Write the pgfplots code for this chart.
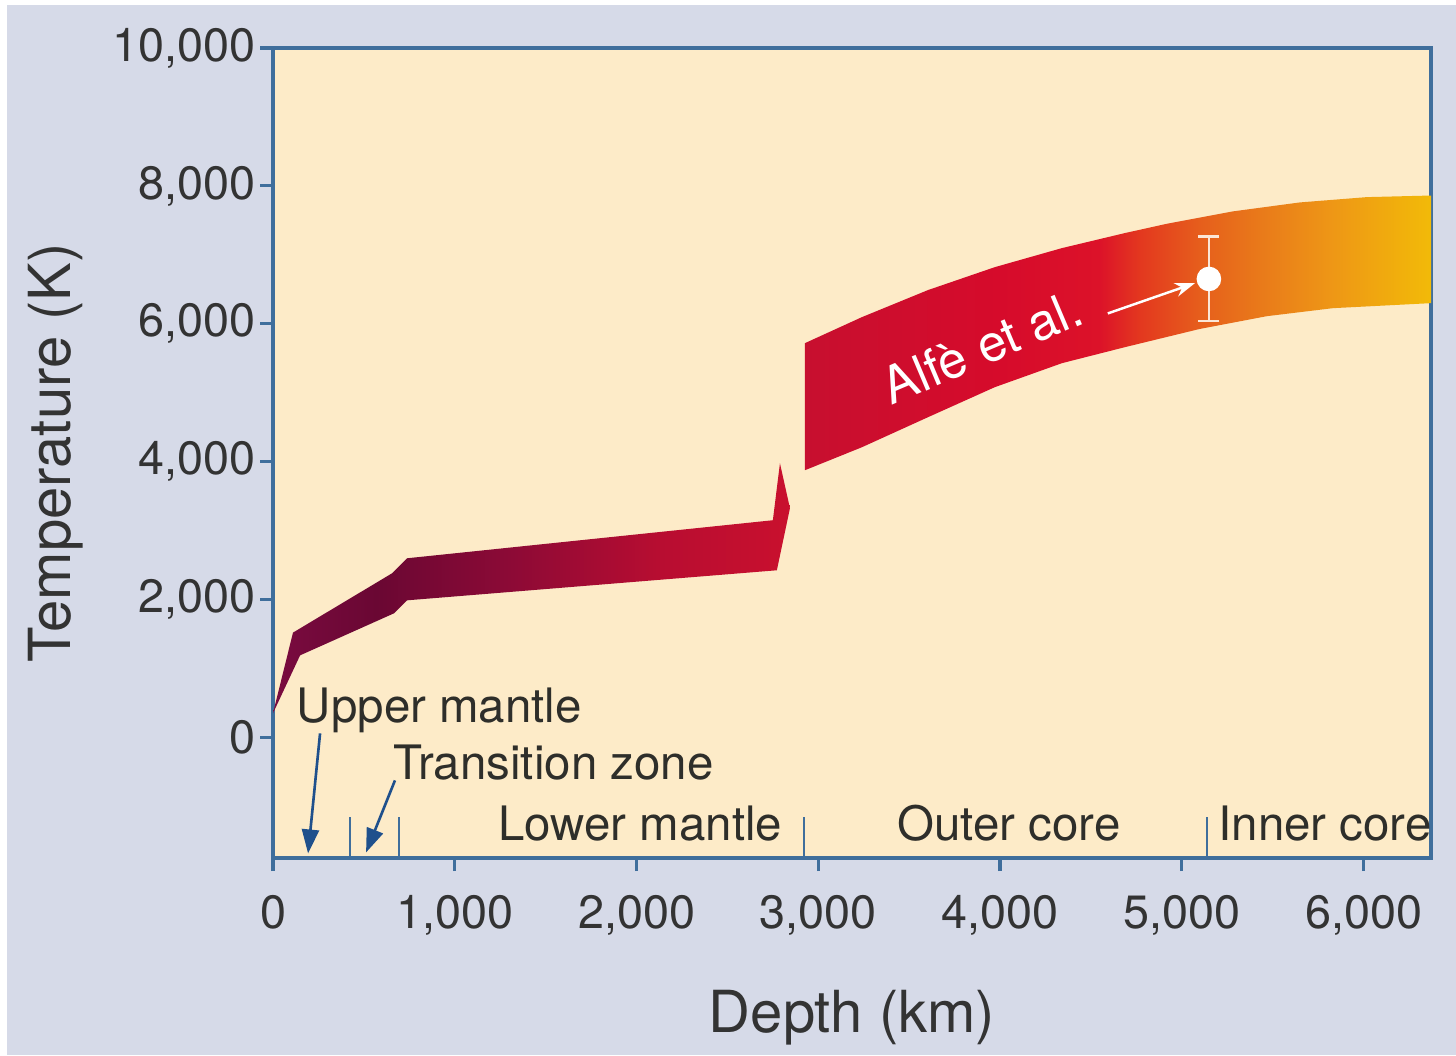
\documentclass[border=0pt]{standalone}
\usepackage{fontspec}
\setmainfont{TeX Gyre Heros}
\usepackage{pgfplots}
\pgfplotsset{compat=1.18}
\usetikzlibrary{arrows.meta}

\definecolor{bglav}{HTML}{D6DAE8}
\definecolor{cream}{HTML}{FDEBC8}
\definecolor{axblue}{HTML}{3F6E9C}
\definecolor{arrowblue}{HTML}{1F508C}
\definecolor{txtgray}{HTML}{333333}
\definecolor{lbltext}{HTML}{2E2E2A}
\definecolor{errcol}{HTML}{FBE6D6}

% mantle band colours (left to right)
\definecolor{m0}{HTML}{7A0B40}
\definecolor{m1}{HTML}{6A0733}
\definecolor{m2}{HTML}{8B0A36}
\definecolor{m3}{HTML}{B80D31}
\definecolor{m4}{HTML}{C9102E}
% core band colours (left to right)
\definecolor{c0}{HTML}{C70F2F}
\definecolor{c1}{HTML}{D60B2B}
\definecolor{c2}{HTML}{DC1229}
\definecolor{c3}{HTML}{E3381F}
\definecolor{c4}{HTML}{E65E1C}
\definecolor{c5}{HTML}{E97A1A}
\definecolor{c6}{HTML}{EE9616}
\definecolor{c7}{HTML}{F2BA08}

% the central 25bp..75bp span is stretched over the band's extent
\pgfdeclarehorizontalshading{mantleshade}{100bp}{%
  color(0bp)=(m0); color(25bp)=(m0); color(35bp)=(m1); color(47.5bp)=(m2);
  color(62.5bp)=(m3); color(75bp)=(m4); color(100bp)=(m4)}
\pgfdeclarehorizontalshading{coreshade}{100bp}{%
  color(0bp)=(c0); color(25bp)=(c0); color(40.5bp)=(c1); color(48.5bp)=(c2);
  color(51.75bp)=(c3); color(56.5bp)=(c4); color(61.4bp)=(c5);
  color(66.9bp)=(c6); color(75bp)=(c7); color(100bp)=(c7)}

\begin{document}
\begin{tikzpicture}
\path[use as bounding box] (0,0) rectangle (14.56cm,10.55cm);
\fill[white] (0,0) rectangle (14.56cm,10.55cm);
\fill[bglav] (0.07cm,0) rectangle (14.56cm,10.50cm);
\begin{axis}[
  at={(2.73cm,1.97cm)}, anchor=south west,
  scale only axis, width=11.58cm, height=8.10cm,
  xmin=0, xmax=6371, ymin=-1750, ymax=10000,
  scaled ticks=false,
  axis background/.style={fill=cream},
  axis line style={axblue, line width=0.9pt},
  tick style={axblue, line width=0.9pt},
  tick align=outside, major tick length=0.13cm,
  xtick pos=bottom, ytick pos=left,
  xtick={0,1000,...,6000}, ytick={0,2000,...,10000},
  /pgf/number format/.cd, 1000 sep={,}, assume math mode=true, /pgfplots/.cd,
  ticklabel style={font=\fontsize{13.3}{16}\selectfont, text=txtgray},
  xticklabel style={yshift=-0.12cm},
  yticklabel style={xshift=0.08cm},
  xlabel={Depth (km)}, ylabel={Temperature (K)},
  label style={font=\fontsize{16.5}{20}\selectfont, text=txtgray},
  xlabel style={at={(axis description cs:0.5,-0.216)}, anchor=base},
  ylabel style={at={(axis description cs:-0.1753,0.5)}, anchor=base},
]
% mantle geotherm band
\addplot[draw=none, shade, shading=mantleshade] coordinates {
  (0,350) (110,1520) (655,2380) (737,2598) (2750,3150)
  (2789,3977) (2844,3324) (2772,2424)
  (737,1988) (666,1800) (149,1190) (0,350)};
% core geotherm band
\addplot[draw=none, shade, shading=coreshade] coordinates {
  (2926,5718) (3240,6096) (3603,6488) (3971,6821) (4340,7097)
  (4686,7315) (4917,7450) (5281,7630) (5649,7760) (6018,7837) (6371,7860)
  (6371,6299) (5831,6226) (5468,6110) (5099,5925) (4686,5660)
  (4340,5428) (3971,5080) (3603,4644) (3240,4209) (2926,3875)};

% ab initio estimate with its uncertainty
\addplot[only marks, mark=*, mark size=3.3pt, mark options={fill=white, draw=white},
  error bars/.cd, y dir=both, y explicit,
  error bar style={errcol, line width=0.8pt},
  error mark options={rotate=90, errcol, mark size=3pt, line width=0.8pt}]
  coordinates {(5149,6650) +- (0,610)};
\addplot[white, line width=0.7pt, -{Stealth[length=0.2cm, width=0.14cm]}]
  coordinates {(4593,6150) (5072,6589)};
\node[rotate=23, text=white, font=\fontsize{14.5}{17}\selectfont]
  at (axis cs:3900,5660) {Alfè et al.};

% layer boundaries
\addplot[axblue, line width=0.7pt] coordinates {(424,-1750) (424,-1160)};
\addplot[axblue, line width=0.7pt] coordinates {(693,-1750) (693,-1160)};
\addplot[axblue, line width=0.7pt] coordinates {(2921,-1750) (2921,-1160)};
\addplot[axblue, line width=0.7pt] coordinates {(5138,-1750) (5138,-1160)};

% pointers to the thin upper layers
\addplot[arrowblue, line width=0.75pt, -{Triangle[length=0.24cm, width=0.17cm]}]
  coordinates {(259,58) (193,-1684)};
\addplot[arrowblue, line width=0.75pt, -{Triangle[length=0.24cm, width=0.17cm]}]
  coordinates {(671,-624) (512,-1669)};

% layer names
\begin{scope}[every node/.style={text=lbltext, font=\fontsize{13.5}{16}\selectfont, inner sep=0pt}]
\node[anchor=base west] at (axis cs:127,218) {Upper mantle};
\node[anchor=base west] at (axis cs:660,-610) {Transition zone};
\node[anchor=base east] at (axis cs:2805,-1495) {Lower mantle};
\node[anchor=base west] at (axis cs:3432,-1495) {Outer core};
\node[anchor=base west] at (axis cs:5198,-1495) {Inner core};
\end{scope}
\end{axis}
\end{tikzpicture}
\end{document}
